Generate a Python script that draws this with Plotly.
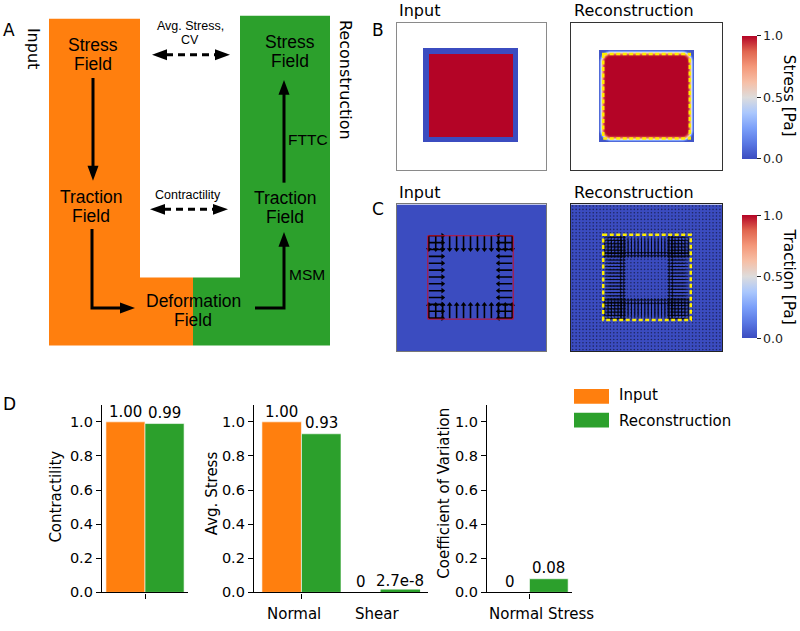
import numpy as np
import plotly.graph_objects as go

W, H = 800, 631

# ---------------- data ----------------
ORANGE = '#ff7f0e'
GREEN = '#2ca02c'
SERIES = ['Input', 'Reconstruction']

contractility_input = [1.00]
contractility_recon = [0.99]
contractility_labels_input = ['1.00']
contractility_labels_recon = ['0.99']

stress_categories = ['Normal', 'Shear']
avg_stress_input = [1.00, 0.0]
avg_stress_recon = [0.93, 2.7e-8]
avg_stress_labels_input = ['1.00', '0']
avg_stress_labels_recon = ['0.93', '2.7e-8']

cv_categories = ['Normal Stress']
cv_input = [0.0]
cv_recon = [0.08]
cv_labels_input = ['0']
cv_labels_recon = ['0.08']

y_ticks = [0.0, 0.2, 0.4, 0.6, 0.8, 1.0]
colorbar_ticks = [0.0, 0.5, 1.0]

# fields of panels B and C (frame of 150 x 150 units)
FRAME = 150
stress_in_cell = [26, 122]
stress_in_core = [32, 117]
stress_rec_cell = [28, 122]
stress_edge_profile = [0.03, 0.15, 0.38, 0.62, 0.8, 0.92, 0.98, 1.0]
stress_corner_radius = 12
cell_outline = [31, 117]
recon_outline = [32, 118]
traction_in_pos = [32, 39, 46, 53, 60, 67, 74, 81, 88, 95, 102, 109, 116]
traction_in_len = 14
traction_rec_pos = list(np.round(np.linspace(33.5, 116.5, 26), 2))
traction_rec_band = 6
traction_rec_len = 16
dot_pos = list(np.round(np.arange(1.7, 150, 3.4), 2))

COOLWARM = [[0.0, '#3b4cc0'], [0.125, '#5977e3'], [0.25, '#7b9ff9'], [0.375, '#aac7fd'],
            [0.5, '#dddcdc'], [0.625, '#f6bfa6'], [0.75, '#f4987a'], [0.875, '#e0654f'],
            [1.0, '#b40426']]

DJ = 'DejaVu Sans'
LS = 'Liberation Sans'


def X(x):
    return x / W


def Y(y):
    return 1 - y / H


fig = go.Figure()
shapes = []
ann = []


def text(x, y, s, size, family=LS, angle=0, xanchor='center', yanchor='middle', color='black'):
    ann.append(dict(x=X(x), y=Y(y), xref='paper', yref='paper', text=s, showarrow=False,
                    textangle=angle, xanchor=xanchor, yanchor=yanchor,
                    font=dict(family=family, size=size, color=color)))


def path(pts, close=False):
    s = 'M ' + ' L '.join(f'{X(a):.5f},{Y(b):.5f}' for a, b in pts)
    return s + (' Z' if close else '')


def poly(pts, color):
    shapes.append(dict(type='path', xref='paper', yref='paper', path=path(pts, True),
                       fillcolor=color, line=dict(width=0)))


def line(pts, width=3, dash=None):
    shapes.append(dict(type='path', xref='paper', yref='paper', path=path(pts),
                       fillcolor='rgba(0,0,0,0)', line=dict(color='black', width=width, dash=dash)))


def head(tip, d, L=14, hw=5.5):
    tx, ty = tip
    dx, dy = d
    bx, by = tx - dx * L, ty - dy * L
    qx, qy = -dy, dx
    poly([(tx, ty), (bx + qx * hw, by + qy * hw), (bx - qx * hw, by - qy * hw)], 'black')


# ---------------- panel A (schematic) ----------------
poly([(49, 19), (140, 19), (140, 281), (193, 281), (193, 350), (49, 350)], ORANGE)
poly([(240, 16), (330, 16), (330, 350), (193, 350), (193, 281), (240, 281)], GREEN)

line([(93, 79), (93, 172)])
head((93, 183), (0, 1), L=15, hw=5.5)
line([(92, 232), (92, 312), (124, 312)])
head((135, 312), (1, 0), L=15, hw=5.5)
line([(255, 312), (284, 312), (284, 246)])
head((284, 235), (0, -1), L=15, hw=5.5)
line([(284, 185), (284, 93)])
head((284, 81), (0, -1), L=15, hw=5.5)

line([(166, 55.5), (216, 55.5)], width=3, dash='7px,5px')
head((152, 55.5), (-1, 0), L=15, hw=5.5)
head((230, 55.5), (1, 0), L=15, hw=5.5)
line([(164, 212), (214, 212)], width=3, dash='7px,5px')
head((150, 212), (-1, 0), L=15, hw=5.5)
head((228, 212), (1, 0), L=15, hw=5.5)

for (x, y, s, f) in [
    (93, 46, 'Stress', 17.5), (93, 65, 'Field', 17.5),
    (91, 200, 'Traction', 17.5), (91, 219, 'Field', 17.5),
    (193, 305, 'Deformation', 17.5), (193, 324, 'Field', 17.5),
    (285, 201, 'Traction', 17.5), (285, 220, 'Field', 17.5),
    (290, 43, 'Stress', 17.5), (290, 62, 'Field', 17.5),
    (308, 141, 'FTTC', 15.5), (307, 278, 'MSM', 15.5),
    (190.5, 26, 'Avg. Stress,', 12.5), (190, 41, 'CV', 12.5),
    (188, 198, 'Contractility', 12.5),
]:
    text(x, y, s, f)

text(33.5, 49, 'Input', 16, family=DJ, angle=90)
text(345, 81, 'Reconstruction', 16, family=DJ, angle=90)

text(9, 30, 'A', 17, family=DJ)
text(378, 30, 'B', 17, family=DJ)
text(378, 212, 'C', 17, family=DJ)
text(9, 409, 'D', 17, family=DJ)

# ---------------- panels B and C (fields) ----------------
g = np.arange(FRAME) + 0.5
GX, GY = np.meshgrid(g, g)


def in_box(b):
    return (GX >= b[0]) & (GX <= b[1]) & (GY >= b[0]) & (GY <= b[1])


z_in = np.full(GX.shape, np.nan)
z_in[in_box(stress_in_cell)] = 0.0
z_in[in_box(stress_in_core)] = 1.0

a, b = stress_rec_cell
ddx = np.minimum(GX - a, b - GX)
ddy = np.minimum(GY - a, b - GY)
R = stress_corner_radius
dist = np.minimum(ddx, ddy)
corner = (ddx < R) & (ddy < R)
dist = np.where(corner, R - np.hypot(R - ddx, R - ddy), dist)
z_rec = np.interp(dist, np.arange(len(stress_edge_profile)), stress_edge_profile)
z_rec[~in_box(stress_rec_cell)] = np.nan
z_rec = np.round(z_rec, 3)

cg = np.arange(7.5, 150, 15)
z_zero = np.zeros((len(cg), len(cg)))

field_axes = {
    4: ([397, 546], [23, 172], '#8a8a8a'),
    5: ([571, 722], [23, 172], '#333333'),
    6: ([397, 546], [207, 356], '#777777'),
    7: ([571, 722], [207, 356], '#222222'),
}


def cbar(y0, y1):
    return dict(x=X(742), xanchor='left', xpad=0, ypad=0, y=Y((y0 + y1) / 2), yanchor='middle',
                len=(y1 - y0) / H, lenmode='fraction', thickness=15, thicknessmode='pixels',
                tickvals=colorbar_ticks, ticktext=[f'{v:.1f}' for v in colorbar_ticks],
                ticks='outside', ticklen=4, tickcolor='#222', tickwidth=1,
                tickfont=dict(family=DJ, size=12.6, color='#222'), outlinewidth=0)


fig.add_trace(go.Heatmap(z=z_in, x=g, y=g, colorscale=COOLWARM, zmin=0, zmax=1, showscale=False,
                         xaxis='x4', yaxis='y4', hoverinfo='skip'))
fig.add_trace(go.Heatmap(z=z_rec, x=g, y=g, colorscale=COOLWARM, zmin=0, zmax=1,
                         colorbar=cbar(36, 161), xaxis='x5', yaxis='y5', hoverinfo='skip'))
fig.add_trace(go.Heatmap(z=z_zero, x=cg, y=cg, colorscale=COOLWARM, zmin=0, zmax=1, showscale=False,
                         xaxis='x6', yaxis='y6', hoverinfo='skip'))
fig.add_trace(go.Heatmap(z=z_zero, x=cg, y=cg, colorscale=COOLWARM, zmin=0, zmax=1,
                         colorbar=cbar(218, 343), xaxis='x7', yaxis='y7', hoverinfo='skip'))

# dots of the reconstructed (zero) traction grid
DX, DY = np.meshgrid(dot_pos, dot_pos)
fig.add_trace(go.Scatter(x=DX.ravel(), y=DY.ravel(), mode='markers',
                         marker=dict(size=1.6, color='rgba(0,0,0,0.5)'),
                         xaxis='x7', yaxis='y7', hoverinfo='skip', showlegend=False))


def add_quiver(tails, vecs, axis, width, head_size, color):
    xs, ys, hx, hy, ang = [], [], [], [], []
    for (x0, y0), (vx, vy) in zip(tails, vecs):
        x1, y1 = x0 + vx, y0 + vy
        xs += [x0, x1, None]
        ys += [y0, y1, None]
        hx.append(x1)
        hy.append(y1)
        ang.append(float(np.degrees(np.arctan2(vx, -vy))))
    fig.add_trace(go.Scatter(x=xs, y=ys, mode='lines', line=dict(color=color, width=width),
                             xaxis='x' + axis, yaxis='y' + axis, hoverinfo='skip', showlegend=False))
    fig.add_trace(go.Scatter(x=hx, y=hy, mode='markers',
                             marker=dict(symbol='triangle-up', size=head_size, angle=ang, color=color,
                                         line=dict(width=0)),
                             xaxis='x' + axis, yaxis='y' + axis, hoverinfo='skip', showlegend=False))


# input traction: forces along the cell border, pointing inward
tails, vecs = [], []
p0, p1 = traction_in_pos[0], traction_in_pos[-1]
L = traction_in_len
for p in traction_in_pos:
    tails += [(p, p0), (p, p1), (p0, p), (p1, p)]
    vecs += [(0, L), (0, -L), (L, 0), (-L, 0)]
add_quiver(tails, vecs, '6', 1.6, 5, 'black')

# reconstructed traction: band of inward forces
tails, vecs = [], []
lo, hi = recon_outline
L = traction_rec_len
for yy in traction_rec_pos:
    for xx in traction_rec_pos:
        if yy - lo < traction_rec_band:
            tails.append((xx, yy)); vecs.append((0, L))
        if hi - yy < traction_rec_band:
            tails.append((xx, yy)); vecs.append((0, -L))
        if xx - lo < traction_rec_band:
            tails.append((xx, yy)); vecs.append((L, 0))
        if hi - xx < traction_rec_band:
            tails.append((xx, yy)); vecs.append((-L, 0))
add_quiver(tails, vecs, '7', 0.9, 3.5, 'rgba(0,0,0,0.75)')

# outlines
shapes.append(dict(type='rect', xref='x6', yref='y6', x0=cell_outline[0], x1=cell_outline[1],
                   y0=cell_outline[0] + 1, y1=cell_outline[1], line=dict(color='#c8102e', width=1)))
shapes.append(dict(type='rect', xref='x5', yref='y5', x0=recon_outline[0], x1=recon_outline[1],
                   y0=recon_outline[0], y1=recon_outline[1],
                   line=dict(color='#ffee00', width=2.5, dash='4px,2.5px')))
shapes.append(dict(type='rect', xref='x7', yref='y7', x0=recon_outline[0], x1=recon_outline[1] + 1,
                   y0=recon_outline[0] - 1, y1=recon_outline[1],
                   line=dict(color='#ffee00', width=2.5, dash='4px,2.5px')))

text(397, 10.5, 'Input', 16, family=DJ, xanchor='left')
text(572, 10.5, 'Reconstruction', 16, family=DJ, xanchor='left')
text(397, 195, 'Input', 16, family=DJ, xanchor='left')
text(572, 195, 'Reconstruction', 16, family=DJ, xanchor='left')
text(789, 97, 'Stress [Pa]', 15.3, family=DJ, angle=90)
text(789, 280, 'Traction [Pa]', 15.3, family=DJ, angle=90)

# ---------------- panel D (bars) ----------------
bar_panels = [
    ('', [0], contractility_input, contractility_recon,
     contractility_labels_input, contractility_labels_recon),
    ('2', list(range(len(stress_categories))), avg_stress_input, avg_stress_recon,
     avg_stress_labels_input, avg_stress_labels_recon),
    ('3', list(range(len(cv_categories))), cv_input, cv_recon,
     cv_labels_input, cv_labels_recon),
]
for xa, idx, vin, vrec, lin, lrec in bar_panels:
    # tiny (non-zero) values keep a visible edge in the series colour, as in the original
    rec_edge_col = [GREEN if 0 < v < 0.005 else 'white' for v in vrec]
    rec_edge_w = [6 if 0 < v < 0.005 else 0.6 for v in vrec]
    fig.add_trace(go.Bar(x=idx, y=vin, width=0.5, offset=-0.5, marker=dict(color=ORANGE,
                         line=dict(color='white', width=0.6)), name=SERIES[0],
                         xaxis='x' + xa, yaxis='y' + xa, showlegend=False, hoverinfo='skip'))
    fig.add_trace(go.Bar(x=idx, y=vrec, width=0.5, offset=0, marker=dict(color=GREEN,
                         line=dict(color=rec_edge_col, width=rec_edge_w)), name=SERIES[1],
                         xaxis='x' + xa, yaxis='y' + xa, showlegend=False, hoverinfo='skip'))
    for i, v, t in zip(idx, vin, lin):
        ann.append(dict(x=i - 0.25, y=v, xref='x' + xa, yref='y' + xa, text=t, showarrow=False,
                        yanchor='bottom', xanchor='center', yshift=-1,
                        font=dict(family=DJ, size=15, color='black')))
    for i, v, t in zip(idx, vrec, lrec):
        ann.append(dict(x=i + 0.25, y=v, xref='x' + xa, yref='y' + xa, text=t, showarrow=False,
                        yanchor='bottom', xanchor='center', yshift=0,
                        font=dict(family=DJ, size=15, color='black')))

# category labels
for xa, cats, offs in [('2', stress_categories, [-0.1, -0.045]), ('3', cv_categories, [0.16])]:
    for i, (c, o) in enumerate(zip(cats, offs)):
        ann.append(dict(x=i + o, y=Y(622), xref='x' + xa, yref='paper', text=c, showarrow=False,
                        yanchor='middle', xanchor='center',
                        font=dict(family=DJ, size=15, color='black')))

text(56, 503, 'Contractility', 15, family=DJ, angle=-90)
text(211.5, 500, 'Avg. Stress', 15, family=DJ, angle=-90)
text(444, 500, 'Coefficient of Variation', 15, family=DJ, angle=-90)

# legend
shapes.append(dict(type='rect', xref='paper', yref='paper', x0=X(574), x1=X(609), y0=Y(409), y1=Y(394),
                   fillcolor=ORANGE, line=dict(width=0)))
shapes.append(dict(type='rect', xref='paper', yref='paper', x0=X(574), x1=X(609), y0=Y(433), y1=Y(418),
                   fillcolor=GREEN, line=dict(width=0)))
text(617, 400, SERIES[0], 15, family=DJ, xanchor='left')
text(617, 426, SERIES[1], 15, family=DJ, xanchor='left')

# ---------------- layout ----------------
bar_x = {'': ([102, 188], [-0.55, 0.55]), '2': ([254, 428], [-0.6, 1.6]), '3': ([487, 572], [-0.55, 0.55])}
axstyle = dict(showgrid=False, zeroline=False, showline=True, linecolor='black', linewidth=1.3,
               ticks='outside', ticklen=5, tickwidth=1.3, tickcolor='black',
               tickfont=dict(family=DJ, size=14.5, color='black'), fixedrange=True)
lay = {}
for k, (dom, rng) in bar_x.items():
    lay['xaxis' + k] = dict(domain=[X(dom[0]), X(dom[1])], range=rng, anchor='y' + k,
                            tickvals=[0], ticktext=[''], **axstyle)
    lay['yaxis' + k] = dict(domain=[Y(600), Y(410)], range=[0, 1.1], anchor='x' + k,
                            tickvals=y_ticks, ticktext=[f'{v:.1f}' for v in y_ticks], **axstyle)

for n, (xd, yd, col) in field_axes.items():
    common = dict(showgrid=False, zeroline=False, showticklabels=False, ticks='', showline=True,
                  mirror=True, linecolor=col, linewidth=1, fixedrange=True)
    lay[f'xaxis{n}'] = dict(domain=[X(xd[0]), X(xd[1])], range=[0, FRAME], anchor=f'y{n}', **common)
    lay[f'yaxis{n}'] = dict(domain=[Y(yd[1]), Y(yd[0])], range=[FRAME, 0], anchor=f'x{n}', **common)

fig.update_layout(width=W, height=H, margin=dict(l=0, r=0, t=0, b=0), paper_bgcolor='white',
                  plot_bgcolor='rgba(0,0,0,0)', barmode='overlay', showlegend=False,
                  shapes=shapes, annotations=ann, **lay)
fig.write_html('out.html', config={'displayModeBar': False},
               post_script="document.body.style.margin='0px';document.body.style.overflow='hidden';")
